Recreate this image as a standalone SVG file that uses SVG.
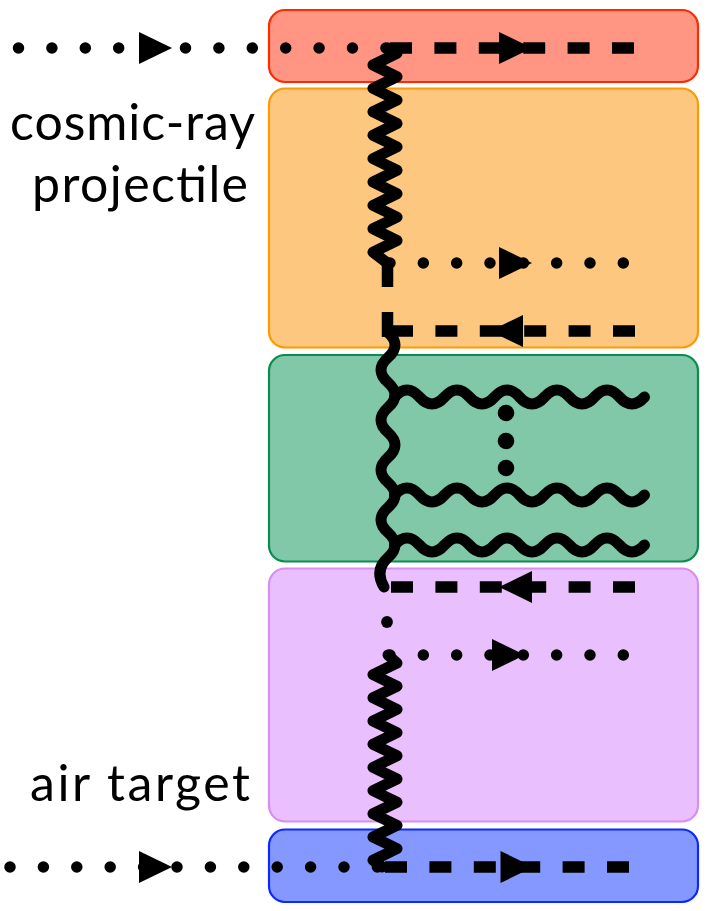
<svg xmlns="http://www.w3.org/2000/svg" xmlns:xlink="http://www.w3.org/1999/xlink" width="708" height="911" viewBox="0 0 708 911">
<style>
.box{stroke-width:2.2}
.dot{fill:none;stroke:#000;stroke-width:11.5;stroke-linecap:round;stroke-dasharray:0 33.4}
.dash{fill:none;stroke:#000;stroke-width:11.5;stroke-linecap:butt;stroke-dasharray:22 22.4}
.solid{fill:none;stroke:#000;stroke-width:11.5;stroke-linecap:butt}
.zig{fill:none;stroke:#000;stroke-width:11;stroke-linecap:round;stroke-linejoin:round}
.wave{fill:none;stroke:#000;stroke-width:11;stroke-linecap:round;stroke-linejoin:round}
.lbl{font-family:Lato,"Open Sans","DejaVu Sans",sans-serif;font-size:50px;fill:#000}
</style>
<defs>
<path id="ah" d="M0,-16 L33,0 L0,16 Z" fill="#000"/>
</defs>
<rect width="708" height="911" fill="#fff"/>
<g id="projectile-box"><rect class="box" x="269" y="10" width="429" height="72" rx="16" fill="#ff9582" stroke="#ff2a00"/></g>
<g id="upper-box"><rect class="box" x="269" y="88.5" width="429" height="259" rx="16" fill="#fdc77f" stroke="#ff9900"/></g>
<g id="middle-box"><rect class="box" x="269" y="355" width="429" height="206.5" rx="16" fill="#80c8a8" stroke="#0a8c50"/></g>
<g id="lower-box"><rect class="box" x="269" y="568.5" width="429" height="253" rx="16" fill="#e9c0fd" stroke="#da8cf5"/></g>
<g id="target-box"><rect class="box" x="269" y="829.5" width="429" height="72.5" rx="16" fill="#8598ff" stroke="#0a28ff"/></g>
<g id="label-projectile">
<text class="lbl" x="10" y="140" textLength="245" lengthAdjust="spacing">cosmic-ray</text>
<text class="lbl" x="32" y="202" textLength="216" lengthAdjust="spacing">projectile</text>
</g>
<g id="label-target"><text class="lbl" x="30" y="801" textLength="220" lengthAdjust="spacing">air target</text></g>
<g id="connectors">
<path class="dot" d="M18.5 48 H386"/>
<path class="dash" d="M390 48 H635"/>
<use xlink:href="#ah" href="#ah" transform="translate(139,48)"/>
<use xlink:href="#ah" href="#ah" transform="translate(499,48)"/>
<path class="zig" d="M388 48 L397 53.3 L373 65 L397 76.7 L373 88.4 L397 100.1 L373 111.8 L397 123.5 L373 135.2 L397 146.9 L373 158.6 L397 170.3 L373 182 L397 193.7 L373 205.4 L397 217.1 L373 228.8 L397 240.5 L373 252.2 L386 262"/>
<path class="dot" style="stroke-dasharray:0 33.33" d="M390 263 H623.4"/>
<use xlink:href="#ah" href="#ah" transform="translate(499,263)"/>
<path class="solid" d="M387.5 265 V287 M387.5 312 V337"/>
<path class="dash" d="M635 331 H382"/>
<use xlink:href="#ah" href="#ah" transform="translate(523,331) scale(-1,1)"/>
<path class="wave" d="M388 332.5 q14 12.5 0 25 t0 25 t0 25 t0 25 t0 25 t0 25 t0 25 t0 25 t0 25 T384 587"/>
<path class="wave" d="M394.5 397 q12.5 -14 25 0 t25 0 t25 0 t25 0 t25 0 t25 0 t25 0 t25 0 t25 0 t25 0"/>
<path class="wave" d="M394.5 495 q12.5 -14 25 0 t25 0 t25 0 t25 0 t25 0 t25 0 t25 0 t25 0 t25 0 t25 0"/>
<path class="wave" d="M394.5 545 q12.5 -14 25 0 t25 0 t25 0 t25 0 t25 0 t25 0 t25 0 t25 0 t25 0 t25 0"/>
<circle cx="506" cy="413" r="8.3" fill="#000"/>
<circle cx="506" cy="441" r="8.3" fill="#000"/>
<circle cx="506" cy="468" r="8.3" fill="#000"/>
<path class="dash" d="M635 587 H390"/>
<use xlink:href="#ah" href="#ah" transform="translate(532,587) scale(-1,1)"/>
<circle cx="387" cy="622" r="5.9" fill="#000"/>
<path class="dot" style="stroke-dasharray:0 33.33" d="M390 655 H623.4"/>
<use xlink:href="#ah" href="#ah" transform="translate(492,655)"/>
<path class="zig" d="M388 655 L397 663 L373 674.6 L397 686.2 L373 697.8 L397 709.4 L373 721 L397 732.6 L373 744.2 L397 755.8 L373 767.4 L397 779 L373 790.6 L397 802.2 L373 813.8 L397 825.4 L373 837 L397 848.6 L373 860.2 L382 867"/>
<path class="dot" d="M10 867 H378"/>
<path class="dash" d="M385 867 H629"/>
<use xlink:href="#ah" href="#ah" transform="translate(139,867)"/>
<use xlink:href="#ah" href="#ah" transform="translate(500.5,867)"/>
</g>
</svg>
